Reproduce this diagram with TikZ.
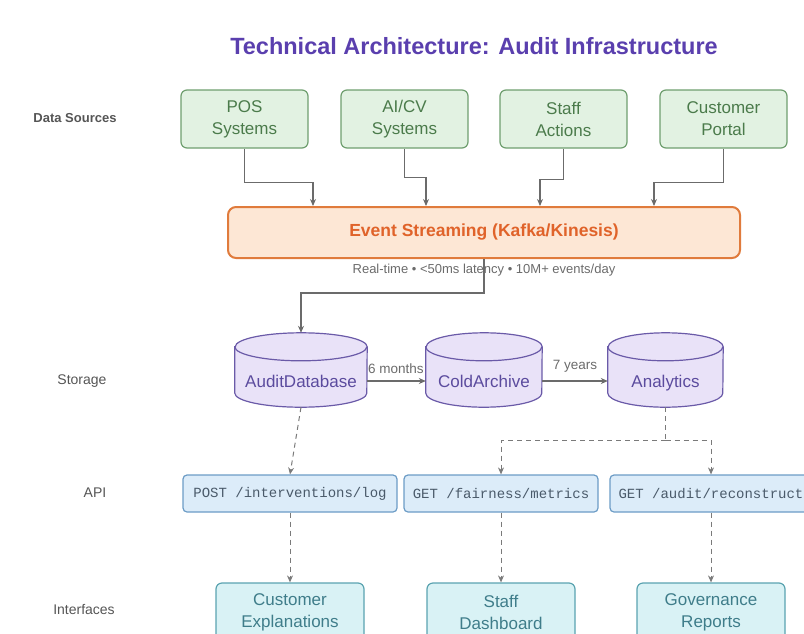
\documentclass[tikz,border=0pt]{standalone}
\usepackage{fontspec}
\setmainfont{Liberation Sans}
\setmonofont{Liberation Mono}
\usetikzlibrary{arrows.meta,backgrounds}

\definecolor{titlecol}{HTML}{5A3FAE}
\definecolor{labelgray}{HTML}{555555}
\definecolor{linegray}{HTML}{6B6B6B}
\definecolor{dashgray}{HTML}{7A7A7A}
\definecolor{srcfill}{HTML}{E2F2E2}
\definecolor{srcline}{HTML}{6F9F6F}
\definecolor{srctext}{HTML}{4B7B4B}
\definecolor{evfill}{HTML}{FDE7D5}
\definecolor{evline}{HTML}{E07B3C}
\definecolor{evtext}{HTML}{E0632A}
\definecolor{cylfill}{HTML}{E9E2F8}
\definecolor{cylline}{HTML}{6A5AA8}
\definecolor{cyltext}{HTML}{5B4B9E}
\definecolor{apifill}{HTML}{DCECF9}
\definecolor{apiline}{HTML}{6C9CC6}
\definecolor{apitext}{HTML}{4A5A6A}
\definecolor{uifill}{HTML}{D9F2F5}
\definecolor{uiline}{HTML}{5AA3B0}
\definecolor{uitext}{HTML}{3F7D8A}

% cylinder outline around a (borderless) rectangle node #1 with half width #2
\newcommand\cylbody[2]{%
  \path[cylshape] ([yshift=-14pt]#1.north west) -- ([yshift=14pt]#1.south west)
    arc[start angle=180,end angle=360,x radius=#2pt,y radius=14pt]
    -- ([yshift=-14pt]#1.north east)
    arc[start angle=0,end angle=180,x radius=#2pt,y radius=14pt] -- cycle;
  \draw[cylline,line width=1.2pt] ([yshift=-14pt]#1.north west)
    arc[start angle=180,end angle=360,x radius=#2pt,y radius=14pt];
}

\begin{document}
\begin{tikzpicture}[x=1pt,y=-1pt,
  rowlabel/.style={text=labelgray,font=\fontsize{14}{16}\selectfont},
  src/.style={draw=srcline,fill=srcfill,line width=1.2pt,rounded corners=6pt,
    minimum width=127pt,minimum height=58pt,inner sep=0pt,align=center,
    text=srctext,font=\fontsize{17}{22}\selectfont},
  evbox/.style={draw=evline,fill=evfill,line width=2pt,rounded corners=8pt,
    minimum width=512pt,minimum height=51pt,inner sep=0pt,
    text=evtext,font=\fontsize{17.5}{20}\selectfont\bfseries},
  cylnode/.style={draw=none,minimum height=74pt,inner sep=0pt,
    text=cyltext,font=\fontsize{17}{20}\selectfont},
  cylshape/.style={draw=cylline,fill=cylfill,line width=1.2pt},
  api/.style={draw=apiline,fill=apifill,line width=1.2pt,rounded corners=4pt,
    minimum height=37pt,inner sep=0pt,text=apitext,
    font=\fontsize{14}{16}\ttfamily},
  ui/.style={draw=uiline,fill=uifill,line width=1.2pt,rounded corners=6pt,
    minimum width=148pt,minimum height=58pt,inner sep=0pt,align=center,
    text=uitext,font=\fontsize{17}{22}\selectfont},
  conn/.style={draw=linegray,line width=1.1pt,-{Stealth[length=7pt,width=6pt]}},
  dconn/.style={draw=dashgray,line width=1pt,dash pattern=on 5pt off 4pt,
    -{Stealth[length=7pt,width=6pt]}},
  note/.style={text=linegray,font=\fontsize{13.5}{16}\selectfont},
]
\useasboundingbox (0,0) rectangle (804,633);

% title
\node[text=titlecol,font=\fontsize{23.5}{27}\selectfont\bfseries] (title) at (474,46)
  {Technical Architecture: Audit Infrastructure};

% row labels
\node[rowlabel,font=\fontsize{13}{15}\selectfont\bfseries] (lsrc) at (75,118) {Data Sources};
\node[rowlabel] (lsto) at (82,381) {Storage};
\node[rowlabel] (lapi) at (95,493) {API};
\node[rowlabel] (lui) at (84,609) {Interfaces};

% data sources
\node[src] (pos) at (244.5,119) {POS\\Systems};
\node[src] (aicv) at (404.5,119) {AI/CV\\Systems};
\node[src] (staff) at (563.5,119) {Staff\\Actions};
\node[src] (cust) at (723.5,119) {Customer\\Portal};

% event streaming
\node[evbox] (ev) at (484,232.5) {Event Streaming (Kafka/Kinesis)};
\node[text=linegray,font=\fontsize{13}{15}\selectfont] (evnote) at (484,270)
  {Real-time \textbullet\ <50ms latency \textbullet\ 10M+ events/day};

\draw[conn] (pos.south) -- ++(0,34) -| ([xshift=-171pt]ev.north);
\draw[conn] (aicv.south) -- ++(0,29) -| ([xshift=-58pt]ev.north);
\draw[conn] (staff.south) -- ++(0,31) -| ([xshift=56pt]ev.north);
\draw[conn] (cust.south) -- ++(0,34) -| ([xshift=170pt]ev.north);

% storage
\node[cylnode,minimum width=132pt] (adb) at (301,370)
  {\raisebox{-17pt}[0pt][0pt]{AuditDatabase}};
\node[cylnode,minimum width=116pt] (cold) at (484,370)
  {\raisebox{-17pt}[0pt][0pt]{ColdArchive}};
\node[cylnode,minimum width=115pt] (ana) at (665.5,370)
  {\raisebox{-17pt}[0pt][0pt]{Analytics}};

\begin{pgfonlayer}{background}
  \node[note] (m6) at (396,369) {6 months};
  \node[note] (y7) at (575,366) {7 years};
  \cylbody{adb}{66}
  \cylbody{cold}{58}
  \cylbody{ana}{57.5}
\end{pgfonlayer}

\draw[conn] (ev.south) -- ++(0,34) -| (adb.north);
\draw[conn] ([yshift=-11pt]adb.east) -- ([yshift=-11pt]cold.west);
\draw[conn] ([yshift=-11pt]cold.east) -- ([yshift=-11pt]ana.west);

% API layer
\node[api,minimum width=214pt] (post) at (290,493.5) {POST /interventions/log};
\node[api,minimum width=194pt] (fair) at (501,493.5) {GET /fairness/metrics};
\node[api,minimum width=202pt] (aud) at (711,493.5) {GET /audit/reconstruct};

\draw[dconn] (adb.south) -- (post.north);
\draw[draw=dashgray,line width=1pt,dash pattern=on 5pt off 4pt]
  (ana.south) -- ++(0,33) coordinate (fork);
\draw[dconn] (fork) -| (fair.north);
\draw[dconn] (fork) -| (aud.north);

% interfaces
\node[ui] (expl) at (290,612) {Customer\\Explanations};
\node[ui] (dash) at (501,612) {Staff\\Dashboard};
\node[ui] (gov) at (711,612) {Governance\\Reports};

\draw[dconn] (post.south) -- (expl.north);
\draw[dconn] (fair.south) -- (dash.north);
\draw[dconn] (aud.south) -- (gov.north);
\end{tikzpicture}
\end{document}
